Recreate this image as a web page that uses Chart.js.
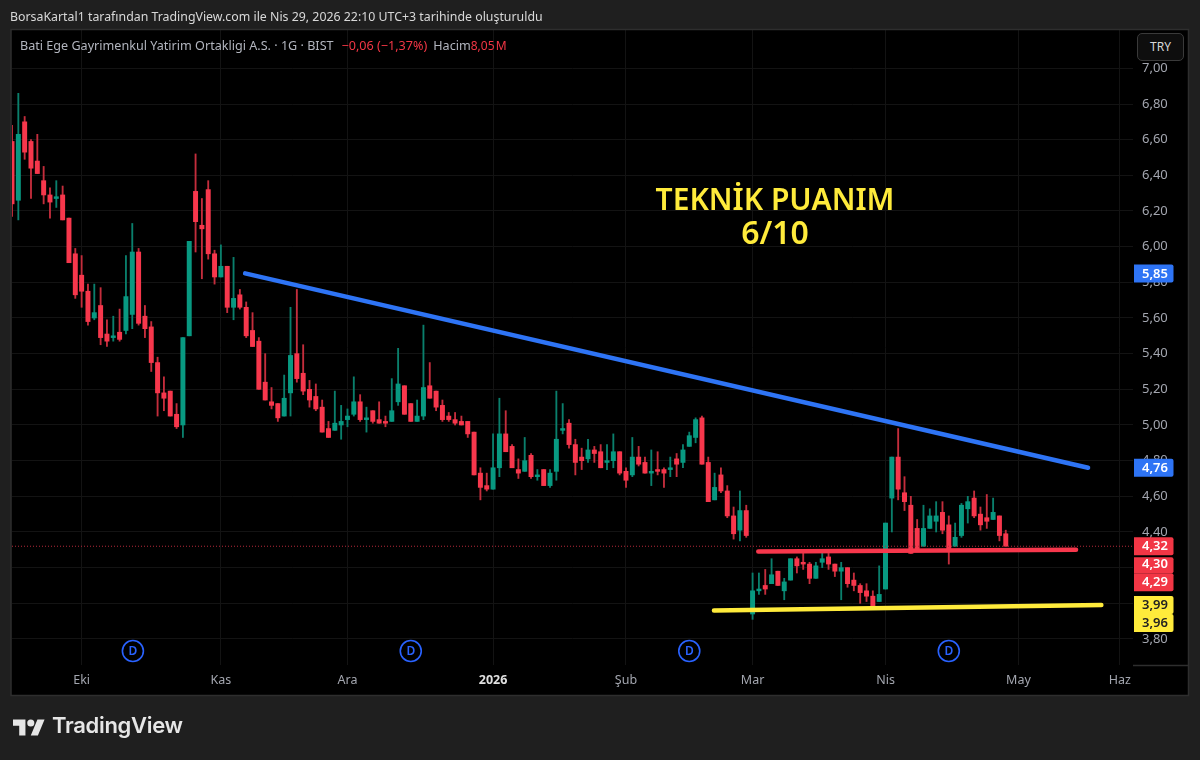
<!DOCTYPE html>
<html lang="tr"><head><meta charset="utf-8">
<script src="https://cdn.jsdelivr.net/npm/chart.js@4"></script>
<style>
html,body{margin:0;padding:0;background:#1f1f1f;width:1200px;height:760px;overflow:hidden}
#wrap{position:relative;width:1200px;height:760px}
canvas{position:absolute;left:0;top:0}
.t{position:absolute;white-space:nowrap;font-family:"Noto Sans",sans-serif}
#head{left:10px;top:8px;font-size:12.35px;color:#d8d8d8}
#legend{left:20px;top:37px;font-size:12.6px;color:#b2b5be}
#legend b{font-weight:400;color:#f23645}
#legend .g1{margin-left:8px}
#legend .g2{margin-left:6px}
#legend .g3{word-spacing:-2px;font-size:12px}
#try{left:1137px;top:33px;width:45px;height:26px;border:1px solid #3a3a3a;border-radius:5px;background:#0e0e0e;color:#d8d8d8;font-size:12px;line-height:26px;text-align:center}
#brand{left:52px;top:712px;font-size:22px;font-weight:600;color:#e6e6e6;font-family:Inter,"Noto Sans",sans-serif;letter-spacing:-.3px}
#logo{position:absolute;left:13px;top:719px}
</style></head><body>
<div id="wrap">
<canvas id="c" width="1200" height="760"></canvas>
<div class="t" id="head">BorsaKartal1 tarafından TradingView.com ile Nis 29, 2026 22:10 UTC+3 tarihinde oluşturuldu</div>
<div class="t" id="legend">Bati Ege Gayrimenkul Yatirim Ortakligi A.S. · 1G · BIST<b class="g1">−0,06 (−1,37%)</b><span class="g2">Hacim</span><b class="g3">8,05 M</b></div>
<div class="t" id="try">TRY</div>
<svg id="logo" width="32" height="17" viewBox="0 4 36 18"><path fill="#e6e6e6" d="M14 22H7V11H0V4h14v18zM28 22h-8l7.5-18h8L28 22z"/><circle fill="#e6e6e6" cx="20" cy="8" r="4"/></svg>
<div class="t" id="brand">TradingView</div>
</div>
<script>
const opens=[6.59,6.26,6.70,6.59,6.48,6.37,6.29,6.27,6.29,6.16,
5.96,5.84,5.75,5.60,5.67,5.51,5.49,5.52,5.53,5.62,
5.97,5.61,5.55,5.35,5.18,5.19,5.06,5.00,5.50,6.31,
6.12,6.32,5.96,5.83,5.89,5.66,5.73,5.66,5.53,5.47,
5.24,5.13,5.12,5.05,5.18,5.40,5.29,5.20,5.16,5.10,
4.98,4.97,5.00,5.03,5.06,5.13,5.03,5.08,5.03,5.02,
5.02,5.13,5.22,5.12,5.02,5.05,5.22,5.19,5.11,5.05,
5.03,5.02,5.02,4.96,4.73,4.66,4.64,4.76,4.95,4.88,
4.75,4.74,4.83,4.71,4.75,4.66,4.74,4.97,5.01,4.89,
4.82,4.81,4.86,4.85,4.79,4.80,4.85,4.74,4.72,4.82,
4.79,4.73,4.75,4.75,4.75,4.81,4.79,4.88,4.93,5.04,
4.79,4.58,4.72,4.63,4.49,4.41,4.52,3.94,4.07,4.10,
4.11,4.18,4.07,4.13,4.25,4.23,4.22,4.14,4.23,4.26,
4.22,4.18,4.20,4.13,4.10,4.07,4.04,4.01,4.08,4.59,
4.82,4.62,4.55,4.42,4.32,4.42,4.46,4.51,4.44,4.32,
4.38,4.53,4.59,4.50,4.48,4.47,4.49,4.39];
const highs=[6.68,6.86,6.73,6.60,6.63,6.45,6.33,6.37,6.34,6.16,
5.99,5.95,5.79,5.79,5.77,5.59,5.61,5.65,5.95,6.13,
5.99,5.67,5.58,5.38,5.27,5.19,5.12,5.49,6.03,6.52,
6.27,6.37,5.98,6.01,5.89,5.94,5.76,5.69,5.63,5.49,
5.40,5.21,5.12,5.28,5.66,5.76,5.45,5.25,5.23,5.14,
5.02,5.19,5.11,5.09,5.27,5.17,5.10,5.08,5.13,5.05,
5.26,5.43,5.22,5.12,5.14,5.56,5.35,5.19,5.14,5.07,
5.07,5.05,5.02,4.96,4.76,4.73,4.95,5.15,5.08,4.89,
4.81,4.93,4.84,4.75,4.75,4.75,5.19,5.12,5.03,4.92,
4.87,4.92,4.88,4.89,4.89,4.95,4.85,4.76,4.93,4.88,
4.82,4.86,4.85,4.76,4.82,4.84,4.89,4.96,5.04,5.05,
4.82,4.73,4.76,4.66,4.54,4.63,4.55,4.17,4.17,4.19,
4.25,4.18,4.14,4.25,4.26,4.29,4.23,4.23,4.29,4.28,
4.22,4.23,4.20,4.17,4.11,4.11,4.07,4.21,4.45,4.82,
4.98,4.71,4.60,4.47,4.55,4.53,4.57,4.57,4.49,4.45,
4.56,4.60,4.63,4.54,4.61,4.59,4.49,4.41];
const lows=[6.17,6.15,6.49,6.27,6.41,6.24,6.16,6.22,6.15,5.91,
5.71,5.66,5.56,5.59,5.45,5.44,5.47,5.47,5.51,5.54,
5.56,5.49,5.30,5.05,5.08,5.05,4.98,4.93,5.50,5.97,
5.82,5.93,5.79,5.83,5.63,5.59,5.65,5.49,5.44,5.20,
5.14,5.09,5.02,5.05,5.05,5.24,5.17,5.10,5.08,4.96,
4.93,4.97,4.92,4.99,5.05,5.02,4.96,5.01,5.01,4.99,
5.02,5.11,5.06,5.02,5.02,5.03,5.15,5.08,5.02,5.02,
5.00,5.00,4.93,4.72,4.58,4.63,4.64,4.71,4.85,4.76,
4.70,4.74,4.70,4.69,4.66,4.65,4.69,4.95,4.87,4.72,
4.75,4.79,4.79,4.76,4.75,4.76,4.72,4.65,4.71,4.77,
4.73,4.66,4.72,4.65,4.71,4.71,4.76,4.88,4.90,4.78,
4.57,4.58,4.62,4.48,4.36,4.35,4.37,3.91,4.05,4.05,
4.11,4.10,4.02,4.13,4.17,4.19,4.11,4.14,4.20,4.19,
4.15,4.02,4.09,4.07,4.00,4.01,3.98,4.01,4.08,4.40,
4.58,4.52,4.28,4.30,4.32,4.42,4.40,4.39,4.22,4.32,
4.37,4.45,4.48,4.41,4.42,4.47,4.35,4.32];
const closes=[6.24,6.63,6.53,6.44,6.41,6.29,6.25,6.28,6.15,5.91,
5.73,5.75,5.58,5.63,5.49,5.47,5.50,5.48,5.72,5.97,
5.57,5.54,5.35,5.18,5.15,5.05,4.99,5.49,6.03,6.14,
6.10,5.96,5.83,5.89,5.66,5.71,5.66,5.50,5.44,5.20,
5.14,5.11,5.04,5.15,5.39,5.26,5.19,5.14,5.09,4.96,
4.93,5.01,5.02,5.05,5.13,5.03,5.04,5.02,5.01,5.01,
5.08,5.23,5.06,5.02,5.05,5.21,5.15,5.10,5.03,5.03,
5.01,5.00,4.95,4.72,4.65,4.64,4.76,4.95,4.85,4.76,
4.73,4.80,4.71,4.72,4.66,4.73,4.92,4.98,4.89,4.79,
4.80,4.86,4.84,4.76,4.80,4.85,4.73,4.69,4.82,4.78,
4.73,4.74,4.74,4.73,4.76,4.78,4.86,4.94,5.03,4.78,
4.57,4.65,4.63,4.49,4.39,4.52,4.38,4.07,4.08,4.08,
4.16,4.10,4.12,4.25,4.21,4.22,4.14,4.21,4.25,4.22,
4.18,4.20,4.11,4.10,4.06,4.04,3.98,4.05,4.45,4.82,
4.64,4.57,4.28,4.30,4.42,4.49,4.49,4.41,4.30,4.37,
4.55,4.57,4.49,4.44,4.46,4.51,4.38,4.32];

const monthIdx=[11,33,53,76,97,117,138,159,175];
const monthLabels=["Eki","Kas","Ara","2026","Şub","Mar","Nis","May","Haz"];
const priceTicks=[3.8,4.0,4.2,4.4,4.6,4.8,5.0,5.2,5.4,5.6,5.8,6.0,6.2,6.4,6.6,6.8,7.0];
const blueX=[36.83,170.0], blueY=[5.85,4.76];
const redX=[117.9,168.1], redY=[4.29,4.30];
const yellowX=[110.9,172.1], yellowY=[3.96,3.99];
const lastPrice=4.32;
const dividendIdx=[19.1,63,107,148];
const tagValues=[5.85,4.76,4.32,4.30,4.29,3.99,3.96];
const tagColors=["#2e74f5","#2e74f5","#f23645","#f23645","#f23645","#ffeb3b","#ffeb3b"];
const tagText=["#fff","#fff","#fff","#fff","#fff","#222","#222"];
const tagJoined=[false,false,false,false,true,false,true];
const UP="#089981",DOWN="#f7374c";
const pair=(xs,ys)=>xs.map((x,i)=>({x,y:ys[i]}));
const colorOf=(i)=>closes[i]>=opens[i]?UP:DOWN;
const wickCol=(i)=>closes[i]>=opens[i]?"#0a7f6c":"#c42d3c";
const comma=v=>v.toFixed(2).replace(".",",");

const frame={id:"frame",
 beforeDraw(ch){const c=ch.ctx;c.save();c.fillStyle="#000";c.fillRect(11,29,1178,667);c.restore();},
 afterDraw(ch){const c=ch.ctx,y=ch.scales.y,x=ch.scales.x;c.save();
  c.strokeStyle="#2e2e2e";c.lineWidth=1.5;c.strokeRect(11,29.5,1177.5,666);
  c.beginPath();c.moveTo(1133,665.5);c.lineTo(1188,665.5);c.stroke();
  c.font="600 12px 'Noto Sans'";c.textAlign="center";c.textBaseline="middle";
  dividendIdx.forEach(i=>{const px=x.getPixelForValue(i);c.beginPath();c.arc(px,651,10.5,0,Math.PI*2);c.strokeStyle="#2962ff";c.lineWidth=1.6;c.stroke();c.fillStyle="#2962ff";c.fillText("D",px,651.5);});
  c.fillStyle="#ffeb3b";c.font="600 30px 'Noto Sans'";c.fillText("TEKNİK PUANIM",775,201);c.font="600 32px 'Noto Sans'";c.fillText("6/10",775,235);
  let prev=-1e9;c.font="600 13px 'Noto Sans'";
  tagValues.forEach((v,k)=>{
   const nat=y.getPixelForValue(v),py=Math.max(nat,prev+18),moved=py>nat+1;
   prev=py;
   const top=py-9+(moved&&!tagJoined[k]?2:0),h=py+9-top;
   c.fillStyle=tagColors[k];c.beginPath();c.roundRect(1134,top,39.5,h,[0,2,2,0]);c.fill();
   c.fillStyle=tagText[k];c.fillText(comma(v),1155,py+0.5);});
  c.restore();}};

new Chart(document.getElementById("c"),{type:"bar",plugins:[frame],
 data:{datasets:[
  {type:"line",data:pair(blueX,blueY),borderColor:"#2e74f5",borderWidth:4.5,pointRadius:0,borderCapStyle:"round",order:1},
  {type:"line",data:pair(yellowX,yellowY),borderColor:"#ffeb3b",borderWidth:4.5,pointRadius:0,borderCapStyle:"round",order:1},
  {type:"line",data:pair(redX,redY),borderColor:"#f7374c",borderWidth:4.5,pointRadius:0,borderCapStyle:"round",order:1},
  {type:"line",data:pair([0,177.1],[lastPrice,lastPrice]),borderColor:"#b5293a",borderWidth:1,borderDash:[1,2],pointRadius:0,order:2},
  {data:opens.map((o,i)=>({x:i,y:[o,closes[i]]})),backgroundColor:opens.map((o,i)=>colorOf(i)),barThickness:4.3,minBarLength:1.5,grouped:false,order:3},
  {data:opens.map((o,i)=>({x:i,y:[lows[i],highs[i]]})),backgroundColor:opens.map((o,i)=>wickCol(i)),barThickness:1.2,grouped:false,order:4}
 ]},
 options:{responsive:false,animation:false,devicePixelRatio:1,
  layout:{padding:{left:12,right:12,top:30,bottom:65}},
  plugins:{legend:{display:false},tooltip:{enabled:false}},
  scales:{
   x:{type:"linear",offset:false,min:0,max:177.1,
    grid:{color:"#131313",offset:false,drawTicks:false},border:{display:false},
    afterBuildTicks(s){s.ticks=monthIdx.map(value=>({value}));},
    afterFit(s){s.height=30;},
    ticks:{autoSkip:false,maxRotation:0,padding:8,
     color:c=>c.tick&&c.tick.value===76?"#e0e0e0":"#a3a6af",
     font:c=>({family:"Noto Sans",size:12.5,weight:c.tick&&c.tick.value===76?"700":"400"}),
     callback:v=>monthLabels[monthIdx.indexOf(v)]||""}},
   y:{type:"linear",position:"right",min:3.654,max:7.215,
    grid:{color:"#131313",drawTicks:false},border:{display:false},
    afterBuildTicks(s){s.ticks=priceTicks.map(value=>({value}));},
    afterFit(s){s.width=55;},
    ticks:{autoSkip:false,padding:9,color:"#a3a6af",font:{family:"Noto Sans",size:13},callback:v=>comma(v)}}
  }}});
</script></body></html>
